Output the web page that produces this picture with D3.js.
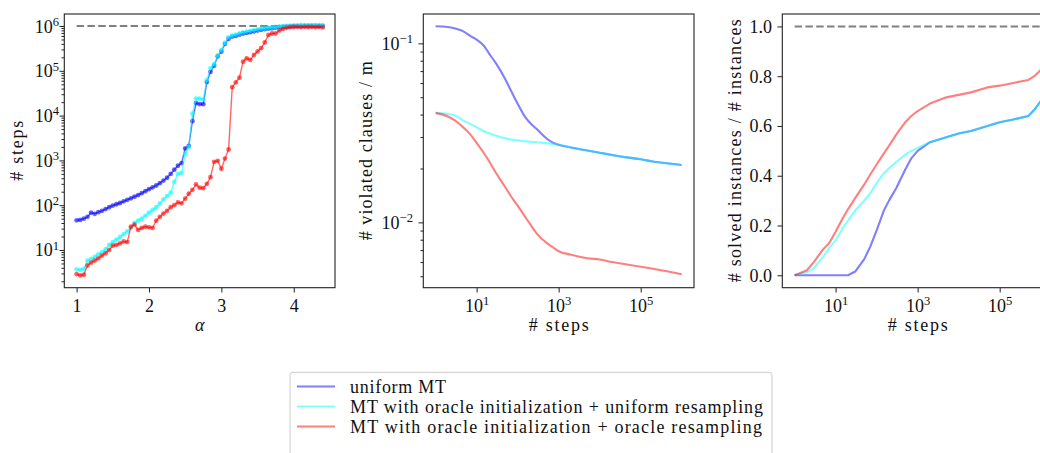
<!DOCTYPE html>
<html>
<head>
<meta charset="utf-8">
<script src="https://cdn.jsdelivr.net/npm/d3@7"></script>
<style>
  html, body { margin: 0; padding: 0; background: #fff; overflow: hidden; }
  svg { display: block; }
</style>
</head>
<body>
<svg id="chart" width="1040" height="453"></svg>
<script>
// series (same order in every panel)
const seriesNames = [
    "uniform MT",
    "MT with oracle initialization + uniform resampling",
    "MT with oracle initialization + oracle resampling"
];
const seriesColors = ["#0000ff", "#00ffff", "#ff0000"];

// panel 1 : # steps vs alpha
const alphas = [1.00,1.05,1.10,1.15,1.20,1.25,1.30,1.35,1.40,1.45,1.50,1.55,1.60,1.65,1.70,1.75,1.80,1.85,1.90,1.95,
    2.00,2.05,2.10,2.15,2.20,2.25,2.30,2.35,2.40,2.45,2.50,2.55,2.60,2.65,2.70,2.75,2.80,2.85,2.90,2.95,
    3.00,3.05,3.10,3.15,3.20,3.25,3.30,3.35,3.40,3.45,3.50,3.55,3.60,3.65,3.70,3.75,3.80,3.85,3.90,3.95,
    4.00,4.05,4.10,4.15,4.20,4.25,4.30,4.35,4.40];
const stepsUniform = [46,47,50,55,68,64,70,75,82,90,98,105,112,122,132,142,155,168,185,205,
    228,250,275,310,355,410,500,620,760,870,1850,2100,7500,19000,18000,18000,56000,95000,130000,210000,
    270000,400000,520000,580000,600000,640000,680000,700000,730000,760000,790000,820000,850000,870000,890000,920000,940000,960000,970000,980000,
    990000,995000,1000000,1000000,1000000,1000000,1000000,1000000,1000000];
const stepsOracleInit = [3.7,3.6,3.8,5.8,6.3,7.0,8.0,9.0,10.5,13,15,17,19.5,22.5,26,31,40,45,50,58,
    68,78,90,110,135,160,190,330,500,520,1400,2000,11000,24000,24000,23000,62000,115000,140000,220000,
    290000,420000,560000,610000,640000,680000,720000,750000,780000,810000,840000,870000,890000,910000,930000,950000,970000,990000,1000000,1020000,
    1030000,1040000,1040000,1040000,1040000,1040000,1040000,1040000,1030000];
const stepsOracleBoth = [2.9,2.7,2.8,4.5,5.2,5.8,6.5,7.5,8.5,10,12.5,13,14,15.5,15,33,37,28,31,33,
    32,31,45,55,65,75,90,100,115,110,140,180,220,290,245,240,300,420,930,980,
    650,1100,1750,43000,55000,70000,160000,190000,175000,225000,270000,320000,430000,630000,680000,680000,790000,860000,910000,940000,
    950000,960000,940000,960000,950000,960000,940000,960000,930000];
const maxSteps = 1e6;
const alphaTicks = [1, 2, 3, 4];
const stepsTicks = [1e1, 1e2, 1e3, 1e4, 1e5, 1e6];

// panel 2 : violated clauses / m vs steps
const stepsViol = [1,2,3,5,7,10,15,20,30,50,70,100,150,200,300,500,700,1e3,2e3,5e3,1e4,2e4,5e4,1e5,2e5,5e5,1e6];
const violUniform = [0.1245,0.1235,0.121,0.116,0.110,0.105,0.097,0.088,0.077,0.063,0.054,0.046,0.039,0.036,0.033,0.0295,0.028,0.0271,
    0.0262,0.0252,0.0245,0.0238,0.0230,0.0225,0.0219,0.0213,0.0209];
const violOracleInit = [0.0409,0.0403,0.0395,0.0368,0.0355,0.034,0.0323,0.0315,0.0305,0.0295,0.029,0.0287,0.0284,0.0282,0.028,0.0277,0.0275,0.0272,
    0.0262,0.0252,0.0245,0.0238,0.0230,0.0225,0.0219,0.0213,0.0209];
const violOracleBoth = [0.0409,0.039,0.037,0.0335,0.031,0.0278,0.0244,0.0220,0.0188,0.0157,0.0139,0.0124,0.0108,0.0098,0.0086,0.0077,0.0073,0.0069,
    0.0066,0.0063,0.0062,0.0060,0.0058,0.00565,0.0055,0.0053,0.00513];
const stepTicks = [1e1, 1e3, 1e5];
const violTicks = [1e-2, 1e-1];

// panel 3 : solved fraction vs steps
const stepsSolved = [1,2,3,5,7,10,15,20,30,50,70,100,150,200,300,500,700,1e3,2e3,5e3,1e4,2e4,5e4,1e5,2e5,5e5,7e5,1e6];
const solvedUniform = [0,0,0,0,0,0,0,0,0.015,0.065,0.115,0.18,0.26,0.30,0.35,0.425,0.47,0.50,
    0.535,0.555,0.57,0.58,0.60,0.615,0.625,0.64,0.665,0.70];
const solvedOracleInit = [0,0.012,0.03,0.075,0.11,0.14,0.19,0.22,0.26,0.30,0.33,0.37,0.41,0.43,0.455,0.485,0.50,0.512,
    0.535,0.555,0.57,0.58,0.60,0.615,0.625,0.64,0.665,0.70];
const solvedOracleBoth = [0,0.02,0.055,0.105,0.13,0.175,0.23,0.265,0.31,0.365,0.405,0.445,0.49,0.52,0.565,0.615,0.64,0.66,
    0.69,0.715,0.725,0.735,0.755,0.762,0.772,0.785,0.80,0.825];
const solvedTicks = [0, 0.2, 0.4, 0.6, 0.8, 1.0];

// layout
const plotTop = 14, plotBottom = 287.7, plotH = plotBottom - plotTop;
const panels = [
    { left: 64.3, right: 335 },
    { left: 423.3, right: 694 },
    { left: 782.3, right: 1053 }
];
const fontFamily = '"Liberation Serif"';
const fontSize = 18;
const majorLen = 4.8, minorLen = 2.8;

const svg = d3.select("#chart");

function setFont(sel) {
    return sel.style("font-family", fontFamily).style("font-size", fontSize + "px").attr("fill", "#111");
}

function supText(sel, exp) {
    sel.text(null);
    sel.append("tspan").text("10");
    sel.append("tspan")
        .attr("dy", -6.8)
        .style("font-size", "12.6px")
        .text(exp < 0 ? "\u2212" + (-exp) : exp);
}

function styleAxis(g) {
    g.attr("font-family", null).attr("font-size", null);
    g.select(".domain").remove();
    g.selectAll(".tick line").attr("stroke", "#222").attr("stroke-width", 1);
    g.selectAll("text").call(setFont);
}

function makePanel(p) {
    p.w = p.right - p.left;
    return svg.append("g").attr("transform", `translate(${p.left},${plotTop})`);
}

function drawFrame(g, p) {
    g.append("rect")
        .attr("width", p.w).attr("height", plotH)
        .attr("fill", "none").attr("stroke", "#222").attr("stroke-width", 1.1);
}

function leftLog(g, y, majors, pad) {
    const minors = y.ticks().filter(v => !majors.some(m => Math.abs(v / m - 1) < 1e-9));
    g.append("g").call(d3.axisLeft(y).tickValues(minors).tickSize(minorLen).tickFormat(""))
        .call(styleAxis);
    const ax = g.append("g").call(d3.axisLeft(y).tickValues(majors).tickSize(majorLen).tickPadding(pad))
        .call(styleAxis);
    ax.selectAll(".tick text").attr("dy", 6).each(function(d) {
        supText(d3.select(this), Math.round(Math.log10(d)));
    });
}

function bottomLog(g, x, majors) {
    const ax = g.append("g").attr("transform", `translate(0,${plotH})`)
        .call(d3.axisBottom(x).tickValues(majors).tickSize(majorLen))
        .call(styleAxis);
    ax.selectAll(".tick text").attr("y", 0).attr("dy", 24).each(function(d) {
        supText(d3.select(this), Math.round(Math.log10(d)));
    });
}

function yLabel(x, text, len) {
    svg.append("text")
        .attr("transform", `translate(${x},${(plotTop + plotBottom) / 2}) rotate(-90)`)
        .attr("text-anchor", "middle")
        .attr("textLength", len).attr("lengthAdjust", "spacing")
        .call(setFont)
        .text(text);
}

function xLabel(p, text, len, italic) {
    const t = svg.append("text")
        .attr("x", (p.left + p.right) / 2).attr("y", 331)
        .attr("text-anchor", "middle")
        .call(setFont)
        .text(text);
    if (len) t.attr("textLength", len).attr("lengthAdjust", "spacing");
    if (italic) t.style("font-style", "italic");
}

function dashed(g, x0, x1, yv) {
    g.append("line")
        .attr("x1", x0).attr("x2", x1).attr("y1", yv).attr("y2", yv)
        .attr("stroke", "#808080").attr("stroke-width", 2.1)
        .attr("stroke-dasharray", "7.5,3.3");
}

// ---------- panel 1 ----------
(function() {
    const p = panels[0];
    const g = makePanel(p);
    const x = d3.scaleLinear().domain([0.83, 4.57]).range([0, p.w]);
    const y = d3.scaleLog().domain([Math.pow(10, 0.158), Math.pow(10, 6.268)]).range([plotH, 0]);

    dashed(g, x(alphas[0]), x(alphas[alphas.length - 1]), y(maxSteps));

    const line = d3.line().x(d => x(d[0])).y(d => y(d[1]));
    [stepsUniform, stepsOracleInit, stepsOracleBoth].forEach((vals, i) => {
        const pts = d3.zip(alphas, vals);
        g.append("path").datum(pts)
            .attr("fill", "none").attr("stroke", seriesColors[i])
            .attr("stroke-opacity", 0.6).attr("stroke-width", 1.4)
            .attr("d", line);
        g.append("g").selectAll("circle").data(pts).enter().append("circle")
            .attr("cx", d => x(d[0])).attr("cy", d => y(d[1])).attr("r", 2.4)
            .attr("fill", seriesColors[i]).attr("fill-opacity", 0.6);
    });

    drawFrame(g, p);
    leftLog(g, y, stepsTicks, 0.5);
    const ax = g.append("g").attr("transform", `translate(0,${plotH})`)
        .call(d3.axisBottom(x).tickValues(alphaTicks).tickSize(majorLen).tickFormat(d3.format("d")))
        .call(styleAxis);
    ax.selectAll(".tick text").attr("y", 0).attr("dy", 24);

    yLabel(23, "# steps", 60);
    xLabel(p, "\u03b1", null, true);
})();

// ---------- panel 2 ----------
(function() {
    const p = panels[1];
    const g = makePanel(p);
    const x = d3.scaleLog().domain([Math.pow(10, -0.3), Math.pow(10, 6.3)]).range([0, p.w]);
    const y = d3.scaleLog().domain([Math.pow(10, -2.365), Math.pow(10, -0.836)]).range([plotH, 0]);

    const line = d3.line().x(d => x(d[0])).y(d => y(d[1])).curve(d3.curveMonotoneX);
    [violUniform, violOracleInit, violOracleBoth].forEach((vals, i) => {
        g.append("path").datum(d3.zip(stepsViol, vals))
            .attr("fill", "none").attr("stroke", seriesColors[i])
            .attr("stroke-opacity", 0.5).attr("stroke-width", 2.1)
            .attr("stroke-linejoin", "round")
            .attr("d", line);
    });

    drawFrame(g, p);
    leftLog(g, y, violTicks, 5.5);
    bottomLog(g, x, stepTicks);

    yLabel(372, "# violated clauses / m", 179);
    xLabel(p, "# steps", 60);
})();

// ---------- panel 3 ----------
(function() {
    const p = panels[2];
    const g = makePanel(p);
    const x = d3.scaleLog().domain([Math.pow(10, -0.3), Math.pow(10, 6.3)]).range([0, p.w]);
    const y = d3.scaleLinear().domain([-0.05, 1.05]).range([plotH, 0]);

    dashed(g, x(stepsSolved[0]), x(stepsSolved[stepsSolved.length - 1]), y(1));

    const line = d3.line().x(d => x(d[0])).y(d => y(d[1]));
    [solvedUniform, solvedOracleInit, solvedOracleBoth].forEach((vals, i) => {
        g.append("path").datum(d3.zip(stepsSolved, vals))
            .attr("fill", "none").attr("stroke", seriesColors[i])
            .attr("stroke-opacity", 0.5).attr("stroke-width", 2.1)
            .attr("stroke-linejoin", "round")
            .attr("d", line);
    });

    drawFrame(g, p);
    const ay = g.append("g")
        .call(d3.axisLeft(y).tickValues(solvedTicks).tickSize(majorLen).tickPadding(5.5).tickFormat(d3.format(".1f")))
        .call(styleAxis);
    ay.selectAll(".tick text").attr("dy", 6);
    bottomLog(g, x, stepTicks);

    yLabel(741, "# solved instances / # instances", 263);
    xLabel(p, "# steps", 60);
})();

// ---------- legend ----------
const legend = svg.append("g");
legend.append("rect")
    .attr("x", 290).attr("y", 372.3).attr("width", 482).attr("height", 90)
    .attr("rx", 3).attr("fill", "#fff").attr("fill-opacity", 0.8)
    .attr("stroke", "#cccccc").attr("stroke-width", 1);
const legendWidths = [96, 413, 412];
seriesNames.forEach((name, i) => {
    const yy = 386.5 + i * 20;
    legend.append("line")
        .attr("x1", 297).attr("x2", 335).attr("y1", yy).attr("y2", yy)
        .attr("stroke", seriesColors[i]).attr("stroke-opacity", 0.5).attr("stroke-width", 2.1);
    legend.append("text")
        .attr("x", 350).attr("y", yy + 6)
        .attr("textLength", legendWidths[i]).attr("lengthAdjust", "spacing")
        .call(setFont)
        .text(name);
});
</script>
</body>
</html>
